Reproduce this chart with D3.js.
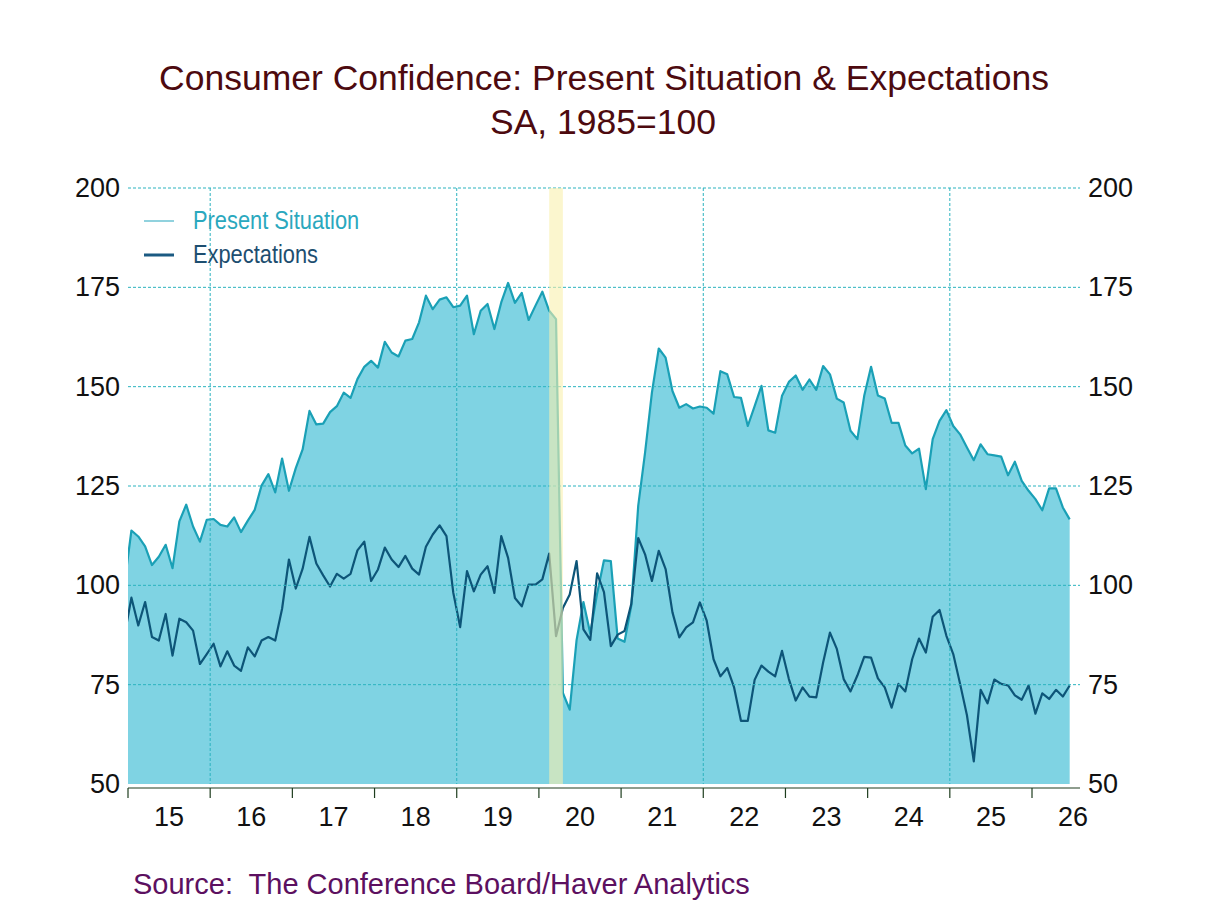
<!DOCTYPE html>
<html>
<head>
<meta charset="utf-8">
<script src="https://cdn.jsdelivr.net/npm/d3@7"></script>
<style>
  body { margin: 0; background: #fff; }
  svg { display: block; font-family: "Liberation Sans", Arial, sans-serif; }
</style>
</head>
<body>
<div id="chart"></div>
<script>
// monthly data, first value is Dec 2014 (clipped at the left edge)
const firstYear = 2014, firstMonth = 11;
const presentSituation = [
  100.6,
  113.8, 112.3, 109.8, 105.1, 107.2, 110.2, 104.3, 116.1, 120.3, 114.8, 111.0, 116.5,
  116.7, 115.2, 114.8, 117.1, 113.4, 116.3, 119.0, 125.1, 128.0, 123.4, 131.9, 123.8,
  129.5, 134.2, 143.9, 140.5, 140.7, 143.6, 145.1, 148.5, 147.2, 151.9, 155.0, 156.5,
  154.8, 161.3, 158.6, 157.6, 161.6, 162.0, 166.2, 172.9, 169.5, 171.9, 172.5, 170.0,
  170.4, 172.9, 163.2, 169.1, 170.8, 164.5, 171.2, 176.1, 171.1, 173.6, 166.8, 170.4,
  173.9, 169.1, 167.0, 72.9, 68.7, 86.2, 95.8, 87.9, 97.9, 106.3, 106.1, 86.6,
  85.8, 95.0, 120.0, 133.4, 148.5, 159.6, 157.3, 148.9, 144.7, 145.6, 144.5, 145.0,
  144.7, 143.2, 153.9, 153.1, 147.4, 147.2, 140.1, 145.1, 150.2, 139.0, 138.4, 147.7,
  151.2, 152.8, 149.2, 151.8, 149.2, 155.2, 153.1, 147.0, 146.0, 138.9, 136.8, 147.7,
  155.0, 147.8, 147.0, 140.9, 140.9, 135.2, 133.2, 134.4, 124.2, 136.8, 141.4, 144.1,
  140.1, 138.0, 134.7, 131.5, 135.5, 133.0, 132.7, 132.4, 127.7, 131.1, 126.3, 123.8,
  121.7, 118.9, 124.4, 124.4, 119.6, 116.6
];
const expectations = [
  87.5,
  96.9, 89.9, 95.8, 87.0, 86.1, 92.8, 82.3, 91.6, 90.7, 88.6, 80.2, 82.7,
  85.3, 79.6, 83.4, 79.8, 78.5, 84.4, 82.1, 86.1, 87.0, 86.1, 94.1, 106.5,
  99.2, 104.2, 112.2, 105.5, 102.5, 99.7, 102.9, 101.7, 102.9, 108.8, 111.0, 101.1,
  104.0, 109.5, 106.5, 104.6, 107.4, 104.2, 102.7, 109.7, 112.8, 115.1, 112.4, 98.1,
  89.5, 103.6, 98.5, 102.7, 104.8, 98.1, 112.4, 106.9, 96.8, 94.7, 100.2, 100.2,
  101.5, 108.0, 87.2, 94.3, 97.7, 106.1, 88.9, 86.3, 103.0, 98.3, 84.7, 87.6,
  88.5, 95.4, 111.9, 107.8, 101.1, 108.7, 104.1, 93.2, 86.9, 89.4, 90.7, 95.7,
  91.1, 81.4, 77.1, 79.2, 74.3, 65.9, 65.9, 76.2, 79.8, 78.3, 77.1, 83.5,
  76.4, 71.0, 74.3, 72.0, 71.8, 80.6, 88.1, 84.0, 76.4, 73.3, 77.3, 82.0,
  81.8, 76.6, 74.3, 69.2, 75.2, 73.3, 81.4, 86.6, 83.1, 92.1, 93.8, 87.3,
  82.7, 75.2, 67.3, 55.7, 73.7, 70.3, 76.3, 75.2, 74.8, 72.3, 71.2, 74.8,
  67.7, 72.8, 71.4, 73.7, 72.0, 74.8
];
const years = [2015, 2016, 2017, 2018, 2019, 2020, 2021, 2022, 2023, 2024, 2025, 2026];
const yearGrid = [2016, 2019, 2022, 2025];
const yTicks = [50, 75, 100, 125, 150, 175, 200];
const recession = [2020 + 1.5 / 12, 2020 + 3.5 / 12]; // Feb-Apr 2020
const seriesNames = ["Present Situation", "Expectations"];

const W = 1208, H = 906;
const plot = { left: 128, right: 1080, top: 188, bottom: 784 };
const gridColor = "#2bb3bf";

const svg = d3.select("#chart").append("svg")
  .attr("width", W).attr("height", H);

const x = d3.scaleLinear()
  .domain([2015, 2026.584])
  .range([plot.left, plot.right]);
const y = d3.scaleLinear()
  .domain([50, 200])
  .range([plot.bottom, plot.top]);

const t = i => firstYear + (firstMonth + i + 0.5) / 12;
const ps = presentSituation.map((v, i) => ({ t: t(i), v }));
const ex = expectations.map((v, i) => ({ t: t(i), v }));

svg.append("clipPath").attr("id", "clip")
  .append("rect")
  .attr("x", plot.left).attr("y", plot.top - 5)
  .attr("width", plot.right - plot.left).attr("height", plot.bottom - plot.top + 5);

const g = svg.append("g").attr("clip-path", "url(#clip)");

// area under present situation
g.append("path")
  .datum(ps)
  .attr("fill", "#7fd3e3")
  .attr("d", d3.area().x(d => x(d.t)).y0(y(50)).y1(d => y(d.v)));

// grid
svg.append("g").selectAll("line")
  .data(yTicks.slice(1))
  .join("line")
  .attr("x1", plot.left).attr("x2", plot.right)
  .attr("y1", d => y(d)).attr("y2", d => y(d))
  .attr("stroke", gridColor).attr("stroke-width", 1)
  .attr("stroke-dasharray", "3,2");
svg.append("g").selectAll("line")
  .data(yearGrid)
  .join("line")
  .attr("x1", d => x(d)).attr("x2", d => x(d))
  .attr("y1", plot.top).attr("y2", plot.bottom)
  .attr("stroke", gridColor).attr("stroke-width", 1)
  .attr("stroke-dasharray", "3,2");

// present situation line
g.append("path")
  .datum(ps)
  .attr("fill", "none")
  .attr("stroke", "#1aa0b6")
  .attr("stroke-width", 2.2)
  .attr("stroke-linejoin", "round")
  .attr("d", d3.line().x(d => x(d.t)).y(d => y(d.v)));

// recession shading
svg.append("rect")
  .attr("x", x(recession[0]))
  .attr("width", x(recession[1]) - x(recession[0]))
  .attr("y", plot.top).attr("height", plot.bottom - plot.top)
  .attr("fill", "#f9f0ae").attr("opacity", 0.6);

// expectations line
g.append("path")
  .datum(ex)
  .attr("fill", "none")
  .attr("stroke", "#0d5578")
  .attr("stroke-width", 2.2)
  .attr("stroke-linejoin", "round")
  .attr("d", d3.line().x(d => x(d.t)).y(d => y(d.v)));

// x axis
const xAxis = svg.append("g").attr("transform", `translate(0,${plot.bottom + 4})`);
xAxis.append("line")
  .attr("x1", plot.left).attr("x2", plot.right)
  .attr("stroke", "#1e3d1e").attr("stroke-width", 1.2);
xAxis.selectAll(".tick")
  .data(years)
  .join("line")
  .attr("x1", d => x(d)).attr("x2", d => x(d))
  .attr("y1", 0).attr("y2", 10)
  .attr("stroke", "#1e3d1e").attr("stroke-width", 1.2);
xAxis.selectAll("text")
  .data(years)
  .join("text")
  .attr("x", d => x(d + 0.5))
  .attr("y", 38)
  .attr("text-anchor", "middle")
  .attr("font-size", 27)
  .attr("fill", "#111")
  .text(d => String(d).slice(2));

// y labels, both sides
svg.append("g").selectAll("text")
  .data(yTicks)
  .join("text")
  .attr("x", plot.left - 8)
  .attr("y", d => y(d) + 9)
  .attr("text-anchor", "end")
  .attr("font-size", 27)
  .attr("fill", "#111")
  .text(d => d);
svg.append("g").selectAll("text")
  .data(yTicks)
  .join("text")
  .attr("x", plot.right + 8)
  .attr("y", d => y(d) + 9)
  .attr("text-anchor", "start")
  .attr("font-size", 27)
  .attr("fill", "#111")
  .text(d => d);

// legend (condensed text)
const legend = svg.append("g");
const legendStyle = [
  { color: "#6cc3d3", text: "#2aa8be", width: 1.5, y: 221 },
  { color: "#1b5a82", text: "#1d4e70", width: 3, y: 255 }
];
seriesNames.forEach((name, i) => {
  const s = legendStyle[i];
  legend.append("line")
    .attr("x1", 144).attr("x2", 174)
    .attr("y1", s.y).attr("y2", s.y)
    .attr("stroke", s.color).attr("stroke-width", s.width);
  legend.append("text")
    .attr("transform", `translate(193,${s.y + 8}) scale(0.84,1)`)
    .attr("font-size", 26)
    .attr("fill", s.text)
    .text(name);
});

// titles
svg.append("text")
  .attr("x", 604).attr("y", 90)
  .attr("text-anchor", "middle")
  .attr("font-size", 35.5)
  .attr("fill", "#4d0a0f")
  .text("Consumer Confidence: Present Situation & Expectations");
svg.append("text")
  .attr("x", 603).attr("y", 134)
  .attr("text-anchor", "middle")
  .attr("font-size", 35.5)
  .attr("fill", "#4d0a0f")
  .text("SA, 1985=100");

svg.append("text")
  .attr("x", 133).attr("y", 894)
  .attr("font-size", 29)
  .attr("fill", "#5c1060")
  .style("white-space", "pre")
  .text("Source:  The Conference Board/Haver Analytics");
</script>
</body>
</html>
